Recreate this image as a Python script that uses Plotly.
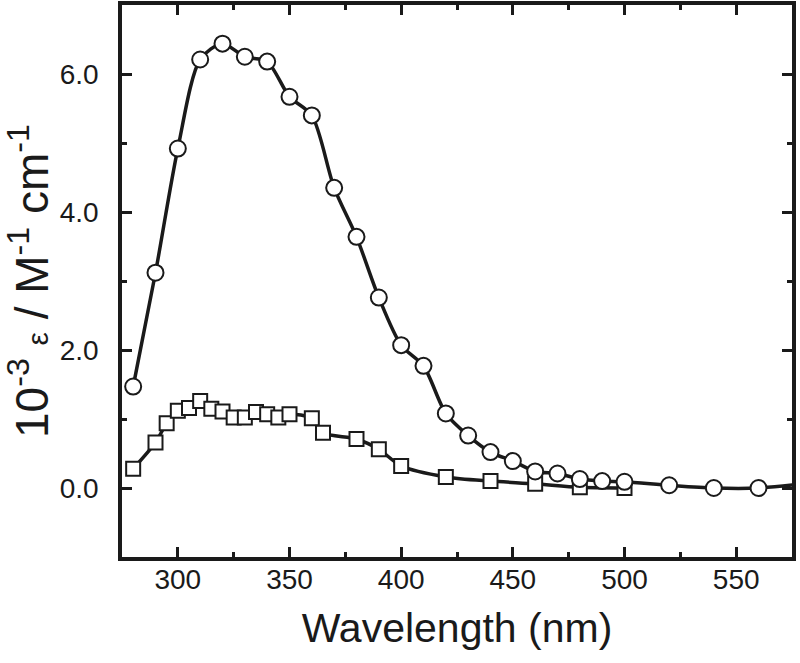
import plotly.graph_objects as go

# Circles series
wl_circ = [280, 290, 300, 310, 320, 330, 340, 350, 360, 370, 380, 390, 400, 410,
           420, 430, 440, 450, 460, 470, 480, 490, 500, 520, 540, 560]
eps_circ = [1.47, 3.12, 4.92, 6.21, 6.44, 6.25, 6.18, 5.67, 5.40, 4.35, 3.64, 2.76,
            2.07, 1.77, 1.08, 0.76, 0.52, 0.39, 0.24, 0.21, 0.13, 0.10, 0.09, 0.04,
            0.0, 0.0]
# tail of the fitted curve beyond last marker
wl_circ_tail = [580]
eps_circ_tail = [0.06]

# Squares series
wl_sq = [280, 290, 295, 300, 305, 310, 315, 320, 325, 330, 335, 340, 345, 350,
         360, 365, 380, 390, 400, 420, 440, 460, 480, 500]
eps_sq = [0.28, 0.66, 0.94, 1.12, 1.16, 1.26, 1.15, 1.11, 1.02, 1.02, 1.10, 1.07,
          1.02, 1.07, 1.01, 0.80, 0.71, 0.56, 0.32, 0.16, 0.10, 0.06, 0.01, 0.0]

INK = "#1a1a1a"
FONT = "Liberation Sans, Arial, Helvetica, sans-serif"

fig = go.Figure()
fig.add_trace(go.Scatter(x=wl_sq, y=eps_sq, mode="lines",
                         line=dict(color=INK, width=3.5, shape="spline", smoothing=0.8),
                         showlegend=False, hoverinfo="skip"))
fig.add_trace(go.Scatter(x=wl_sq, y=eps_sq, mode="markers",
                         marker=dict(symbol="square", size=14, color="white",
                                     line=dict(color=INK, width=2)),
                         showlegend=False))
fig.add_trace(go.Scatter(x=wl_circ + wl_circ_tail, y=eps_circ + eps_circ_tail, mode="lines",
                         line=dict(color=INK, width=3.5, shape="spline", smoothing=0.8),
                         showlegend=False, hoverinfo="skip"))
fig.add_trace(go.Scatter(x=wl_circ, y=eps_circ, mode="markers",
                         marker=dict(symbol="circle", size=16, color="white",
                                     line=dict(color=INK, width=2)),
                         showlegend=False))

axis_common = dict(
    showline=True, linecolor=INK, linewidth=3.5, mirror="allticks",
    ticks="inside", ticklen=10, tickwidth=3, tickcolor=INK,
    showgrid=False, zeroline=False,
    tickfont=dict(family=FONT, size=28, color=INK),
)

fig.update_xaxes(range=[275, 575], tick0=0, dtick=50,
                 minor=dict(ticks="inside", ticklen=5, tickwidth=3, tickcolor=INK, dtick=25, tick0=0, showgrid=False),
                 title=dict(text="Wavelength (nm)", font=dict(family=FONT, size=41, color=INK), standoff=20),
                 ticklabelstandoff=-5,
                 **axis_common)
fig.update_yaxes(range=[-1, 7], tick0=0, dtick=2, tickformat=".1f",
                 minor=dict(ticks="inside", ticklen=5, tickwidth=3, tickcolor=INK, dtick=1, tick0=0, showgrid=False),
                 title=dict(text="10<sup>-3</sup> <span style='font-size:30px'>ε</span> / M<sup>-1</sup> cm<sup>-1</sup>",
                            font=dict(family=FONT, size=46, color=INK), standoff=0),
                 ticklabelstandoff=14,
                 **axis_common)

fig.update_layout(
    width=800, height=663,
    margin=dict(l=122, r=8, t=5, b=106, autoexpand=False),
    plot_bgcolor="white", paper_bgcolor="white",
    font=dict(family=FONT, color=INK),
)

fig.write_html("out.html", config={"displayModeBar": False},
               post_script="document.body.style.margin='0';")
